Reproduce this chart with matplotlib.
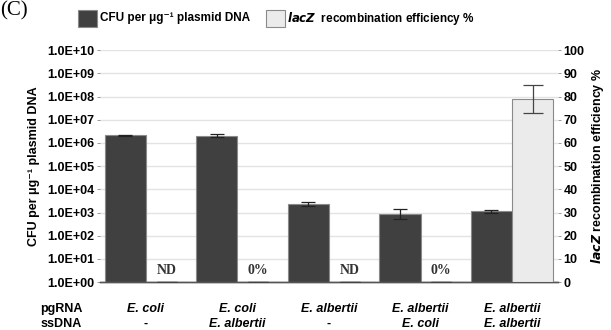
import matplotlib.pyplot as plt
import numpy as np

plt.rcParams['font.family'] = ['Liberation Sans', 'DejaVu Sans']
plt.rcParams['font.weight'] = 'bold'

pgrna = ["E. coli", "E. coli", "E. albertii", "E. albertii", "E. albertii"]
ssdna = ["-", "E. albertii", "-", "E. coli", "E. albertii"]
cfu = [2.1e6, 2.0e6, 2.3e3, 9.0e2, 1.15e3]
cfu_lo = [1.9e6, 1.75e6, 1.95e3, 5.5e2, 1.0e3]
cfu_hi = [2.3e6, 2.35e6, 2.75e3, 1.4e3, 1.35e3]
lacz = [0, 0, 0, 0, 79]
lacz_err = [0, 0, 0, 0, 6]
lacz_note = ["ND", "0%", "ND", "0%", None]

fig = plt.figure(figsize=(6.11, 3.30), dpi=100)
ax = fig.add_axes([0.164, 0.145, 0.749, 0.703])
ax2 = ax.twinx()

x = np.arange(len(pgrna))
w = 0.45
dark = '#404040'
light = '#ebebeb'

yerr = [np.array(cfu) - np.array(cfu_lo), np.array(cfu_hi) - np.array(cfu)]
ax.bar(x - w / 2, cfu, w, bottom=1, color=dark, edgecolor='#8a8a8a', linewidth=0.8,
       yerr=yerr, error_kw=dict(ecolor='#222222', elinewidth=0.9, capsize=5, capthick=0.9), zorder=3)
ax.set_yscale('log')
ax.set_ylim(1, 1e10)
ax.set_xlim(-0.5, len(pgrna) - 0.5)
ax.set_yticks([10.0 ** k for k in range(11)])
ax.set_yticklabels(["1.0E+%02d" % k for k in range(11)], fontsize=9)
ax.minorticks_off()
ax.yaxis.grid(True, color='#e3e3e3', linewidth=1.0, zorder=0)
ax.set_axisbelow(True)
ax.set_xticks([])
ax.tick_params(axis='y', length=2, width=0.6, color='#888888', pad=2)
ax.set_ylabel("CFU per μg⁻¹ plasmid DNA", fontsize=9, fontweight='bold', labelpad=5,
              family=['Liberation Sans', 'DejaVu Sans'])

ax2.bar(x + w / 2, lacz, w, color=light, edgecolor='#8a8a8a', linewidth=0.8,
        yerr=lacz_err,
        error_kw=dict(ecolor='#444444', elinewidth=0.9, capsize=7, capthick=0.9), zorder=3)
ax2.set_ylim(0, 100)
ax2.set_yticks(range(0, 101, 10))
ax2.set_yticklabels([str(v) for v in range(0, 101, 10)], fontsize=9)
ax2.tick_params(axis='y', length=2, width=0.6, color='#888888', pad=2)
ax2.set_ylabel(r"$\mathbf{\mathit{lacZ}}$ recombination efficiency %", fontsize=9,
               fontweight='bold', labelpad=3)

for a in (ax, ax2):
    for s in ('left', 'right', 'top'):
        a.spines[s].set_visible(False)
    a.spines['bottom'].set_color('#555555')
    a.spines['bottom'].set_linewidth(1.0)

for xi, note in zip(x, lacz_note):
    if note:
        ax2.text(xi + w / 2, 5, note, ha='center', va='center', fontsize=10,
                 family='Liberation Serif', fontweight='bold', color='#333333')

tr = ax.get_xaxis_transform()
for xi, p, s in zip(x, pgrna, ssdna):
    ax.text(xi, -0.115, p, transform=tr, ha='center', va='center', fontsize=9,
            style='italic', fontweight='bold')
    ax.text(xi, -0.18, s, transform=tr, ha='center', va='center', fontsize=9,
            style='normal' if s == '-' else 'italic', fontweight='bold')
ax.text(-0.085, -0.115, "pgRNA", transform=ax.transAxes, ha='center', va='center', fontsize=9, fontweight='bold')
ax.text(-0.085, -0.18, "ssDNA", transform=ax.transAxes, ha='center', va='center', fontsize=9, fontweight='bold')

# legend
fig.patches.append(plt.Rectangle((0.128, 0.918), 0.031, 0.052, transform=fig.transFigure,
                                 facecolor=dark, edgecolor='#8a8a8a', linewidth=0.8))
fig.text(0.163, 0.945, "CFU per μg⁻¹ plasmid DNA", fontsize=8.5, va='center', fontweight='bold',
         family=['Liberation Sans', 'DejaVu Sans'])
fig.patches.append(plt.Rectangle((0.435, 0.918), 0.031, 0.052, transform=fig.transFigure,
                                 facecolor=light, edgecolor='#8a8a8a', linewidth=0.8))
fig.text(0.470, 0.945, r"$\mathbf{\mathit{lacZ}}$  recombination efficiency %", fontsize=8.5, va='center', fontweight='bold')

fig.text(0.0, 0.995, "(C)", fontsize=15, family='Liberation Serif', fontweight='normal', va='top')

fig.savefig("out.png", dpi=100)
